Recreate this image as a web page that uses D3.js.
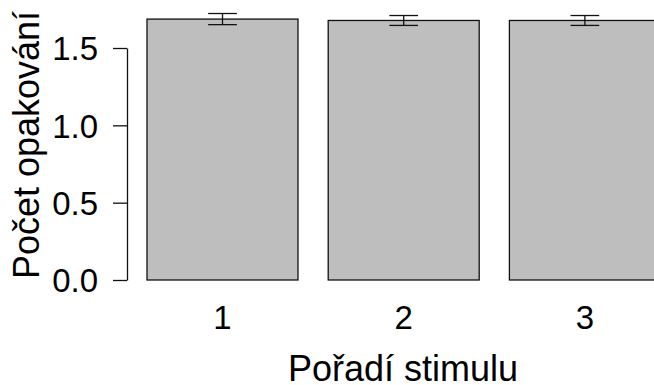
<!DOCTYPE html>
<html>
<head>
<meta charset="utf-8">
<script src="https://cdn.jsdelivr.net/npm/d3@7"></script>
<style>
  html, body { margin: 0; padding: 0; background: #ffffff; }
  svg text { font-family: "Liberation Sans", Arial, sans-serif; fill: #000; }
</style>
</head>
<body>
<svg id="chart" width="654" height="385"></svg>
<script>
// Chart data
const categories = ["1", "2", "3"];
const means = [1.687, 1.678, 1.678];
const errors = [0.036, 0.032, 0.032];
const yTicks = [0.0, 0.5, 1.0, 1.5];

const svg = d3.select("#chart");

// R barplot coordinates: width 1, space 0.2
const barWidth = 1;
const barSpace = 0.2;
const barLeft = categories.map((d, i) => barSpace + i * (barWidth + barSpace));

const x = d3.scaleLinear().domain([0, 3.6]).range([116.8, 660.4]);
const y = d3.scaleLinear().domain([0, 1.5]).range([280, 48]);

// Bars
svg.selectAll("rect.bar")
    .data(categories)
    .enter()
    .append("rect")
    .attr("class", "bar")
    .attr("x", (d, i) => x(barLeft[i]))
    .attr("y", (d, i) => y(means[i]))
    .attr("width", (d, i) => x(barLeft[i] + barWidth) - x(barLeft[i]))
    .attr("height", (d, i) => y(0) - y(means[i]))
    .attr("fill", "#bebebe")
    .attr("stroke", "#111")
    .attr("stroke-width", 1.3);

// Error bars
const capHalf = 0.095;
categories.forEach((d, i) => {
    const cx = x(barLeft[i] + barWidth / 2);
    const top = y(means[i] + errors[i]);
    const bottom = y(means[i] - errors[i]);
    const g = svg.append("g")
        .attr("stroke", "#111")
        .attr("stroke-width", 1.3);
    g.append("line")
        .attr("x1", cx).attr("x2", cx)
        .attr("y1", top).attr("y2", bottom);
    g.append("line")
        .attr("x1", x(barLeft[i] + barWidth / 2 - capHalf))
        .attr("x2", x(barLeft[i] + barWidth / 2 + capHalf))
        .attr("y1", top).attr("y2", top);
    g.append("line")
        .attr("x1", x(barLeft[i] + barWidth / 2 - capHalf))
        .attr("x2", x(barLeft[i] + barWidth / 2 + capHalf))
        .attr("y1", bottom).attr("y2", bottom);
});

// Y axis
const yAxis = d3.axisLeft(y)
    .tickValues(yTicks)
    .tickFormat(d3.format(".1f"))
    .tickSizeInner(14)
    .tickSizeOuter(0)
    .tickPadding(15);

const yAxisG = svg.append("g")
    .attr("transform", "translate(127,0)")
    .call(yAxis);

yAxisG.select(".domain")
    .attr("stroke", "#111")
    .attr("stroke-width", 1.3);
yAxisG.selectAll(".tick line")
    .attr("stroke", "#111")
    .attr("stroke-width", 1.3);
yAxisG.selectAll(".tick text")
    .attr("font-size", 33)
    .attr("font-family", "Liberation Sans, Arial, sans-serif")
    .attr("fill", "#000")
    .attr("dy", "0.36em");

// X category labels (no axis line, as in R barplot names)
svg.selectAll("text.xlab")
    .data(categories)
    .enter()
    .append("text")
    .attr("class", "xlab")
    .attr("x", (d, i) => x(barLeft[i] + barWidth / 2))
    .attr("y", 329)
    .attr("text-anchor", "middle")
    .attr("font-size", 33)
    .text(d => d);

// Axis titles
svg.append("text")
    .attr("x", 403)
    .attr("y", 381)
    .attr("text-anchor", "middle")
    .attr("font-size", 36)
    .text("Pořadí stimulu");

svg.append("text")
    .attr("transform", "translate(39,145) rotate(-90)")
    .attr("text-anchor", "middle")
    .attr("font-size", 36)
    .text("Počet opakování");
</script>
</body>
</html>
